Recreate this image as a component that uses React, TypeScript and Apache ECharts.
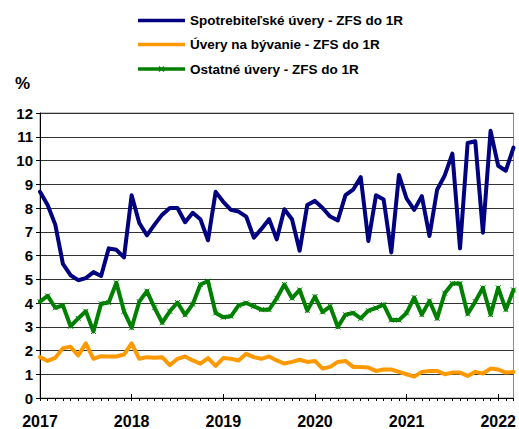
import React, { useEffect, useRef } from "react";
import * as echarts from "echarts";

const YEARS = ["2017", "2018", "2019", "2020", "2021", "2022"];
const MONTHS = ["01", "02", "03", "04", "05", "06", "07", "08", "09", "10", "11", "12"];
const LAST_MONTH_COUNT_2022 = 3;

const SERIES_NAMES = [
  "Spotrebiteľské úvery - ZFS do 1R",
  "Úvery na bývanie - ZFS do 1R",
  "Ostatné úvery - ZFS do 1R",
];
const SERIES_COLORS = ["#000080", "#FF9900", "#008000"];

const consumer = [
  8.68, 8.13, 7.3, 5.65, 5.17, 4.96, 5.05, 5.3, 5.14, 6.3, 6.24, 5.92,
  8.54, 7.37, 6.85, 7.3, 7.72, 8.0, 8.0, 7.4, 7.8, 7.53, 6.64, 8.68,
  8.26, 7.92, 7.85, 7.64, 6.75, 7.12, 7.53, 6.68, 7.95, 7.53, 6.2, 8.13,
  8.3, 8.0, 7.64, 7.48, 8.54, 8.77, 9.3, 6.61, 8.54, 8.36, 6.13, 9.39,
  8.4, 7.92, 8.5, 6.82, 8.77, 9.37, 10.29, 6.3, 10.74, 10.81, 6.96, 11.25,
  9.78, 9.57, 10.54,
];

const housing = [
  1.72, 1.56, 1.69, 2.1, 2.16, 1.79, 2.3, 1.65, 1.76, 1.75, 1.75, 1.83,
  2.3, 1.65, 1.72, 1.69, 1.72, 1.38, 1.65, 1.75, 1.58, 1.45, 1.68, 1.35,
  1.68, 1.65, 1.58, 1.86, 1.72, 1.65, 1.75, 1.58, 1.45, 1.52, 1.61, 1.52,
  1.56, 1.24, 1.31, 1.52, 1.56, 1.31, 1.31, 1.28, 1.14, 1.2, 1.2, 1.1,
  1.0, 0.9, 1.1, 1.14, 1.14, 1.0, 1.07, 1.07, 0.93, 1.1, 1.03, 1.24,
  1.2, 1.07, 1.1,
];

const other = [
  4.06, 4.3, 3.8, 3.9, 3.02, 3.35, 3.65, 2.8, 3.97, 4.02, 4.85, 3.65,
  2.96, 4.06, 4.5, 3.8, 3.17, 3.65, 4.02, 3.5, 3.95, 4.78, 4.92, 3.58,
  3.4, 3.44, 3.9, 4.0, 3.86, 3.72, 3.72, 4.2, 4.78, 4.2, 4.55, 3.68,
  4.27, 3.62, 3.86, 2.99, 3.51, 3.58, 3.35, 3.68, 3.79, 3.93, 3.28, 3.28,
  3.58, 4.23, 3.51, 4.09, 3.35, 4.41, 4.82, 4.82, 3.54, 4.06, 4.64, 3.51,
  4.64, 3.72, 4.55,
];

const categories: string[] = [];
YEARS.forEach((y, yi) => {
  const months = yi === YEARS.length - 1 ? MONTHS.slice(0, LAST_MONTH_COUNT_2022) : MONTHS;
  months.forEach((m) => categories.push(`${y}-${m}`));
});

const FONT = "'Liberation Sans', Arial, sans-serif";
const isJan = (_i: number, v: string) => v.endsWith("-01");
const CROSS = "path://M0,0L10,10M10,0L0,10";

function legendGraphic() {
  const x0 = 138;
  const x1 = 185;
  const ys = [20.5, 44.5, 69];
  const els: any[] = [];
  SERIES_NAMES.forEach((name, i) => {
    els.push({
      type: "line",
      shape: { x1: x0, y1: ys[i], x2: x1, y2: ys[i] },
      style: { stroke: SERIES_COLORS[i], lineWidth: 3.5 },
    });
    if (i === 2) {
      const cx = (x0 + x1) / 2;
      els.push({
        type: "polyline",
        shape: { points: [[cx - 2.5, ys[i] - 2.5], [cx + 2.5, ys[i] + 2.5]] },
        style: { stroke: SERIES_COLORS[i], lineWidth: 1.2, fill: null },
      });
      els.push({
        type: "polyline",
        shape: { points: [[cx + 2.5, ys[i] - 2.5], [cx - 2.5, ys[i] + 2.5]] },
        style: { stroke: SERIES_COLORS[i], lineWidth: 1.2, fill: null },
      });
    }
    els.push({
      type: "text",
      x: 190,
      y: ys[i],
      style: {
        text: name,
        fontFamily: FONT,
        fontSize: 13.5,
        fontWeight: "bold",
        fill: "#000",
        verticalAlign: "middle",
        align: "left",
      },
    });
  });
  return els;
}

export default function App() {
  const ref = useRef<HTMLDivElement>(null);
  useEffect(() => {
    if (!ref.current) return;
    const chart = echarts.init(ref.current, null, { renderer: "svg" });
    const xCommon = {
      type: "category" as const,
      data: categories,
      boundaryGap: false,
      gridIndex: 0,
    };
    chart.setOption({
      animation: false,
      backgroundColor: "#fff",
      textStyle: { fontFamily: FONT },
      graphic: [
        ...legendGraphic(),
        {
          type: "text",
          left: 15,
          top: 75,
          style: { text: "%", fontFamily: FONT, fontSize: 17, fontWeight: "bold", fill: "#000" },
        },
      ],
      grid: {
        left: 40,
        top: 113,
        right: 4,
        bottom: 25,
        show: true,
        borderColor: "#888",
        borderWidth: 1,
        backgroundColor: "transparent",
      },
      xAxis: [
        {
          ...xCommon,
          axisLine: { show: true, lineStyle: { color: "#000", width: 1 } },
          axisTick: { show: true, interval: 0, length: 3, lineStyle: { color: "#000" } },
          axisLabel: {
            interval: isJan,
            formatter: (v: string) => v.slice(0, 4),
            fontFamily: FONT,
            fontSize: 16,
            fontWeight: "bold",
            color: "#000",
            margin: 15,
          },
          splitLine: { show: false },
        },
        {
          ...xCommon,
          position: "bottom",
          axisLine: { show: false },
          axisTick: { show: true, inside: true, interval: isJan, length: 4, lineStyle: { color: "#000" } },
          axisLabel: { show: false },
          splitLine: { show: false },
        },
      ],
      yAxis: {
        type: "value",
        min: 0,
        max: 12,
        interval: 1,
        axisLine: { show: true, lineStyle: { color: "#000", width: 1 } },
        axisTick: { show: true, length: 4, lineStyle: { color: "#000" } },
        axisLabel: {
          fontFamily: FONT,
          fontSize: 15,
          fontWeight: "bold",
          color: "#000",
          margin: 7,
        },
        splitLine: { show: true, lineStyle: { color: "#333", width: 1 } },
      },
      series: [
        {
          name: SERIES_NAMES[0],
          type: "line",
          data: consumer,
          showSymbol: false,
          symbol: "none",
          itemStyle: { color: SERIES_COLORS[0] },
          lineStyle: { color: SERIES_COLORS[0], width: 4, cap: "round", join: "round" },
          z: 3,
        },
        {
          name: SERIES_NAMES[1],
          type: "line",
          data: housing,
          showSymbol: false,
          symbol: "none",
          itemStyle: { color: SERIES_COLORS[1] },
          lineStyle: { color: SERIES_COLORS[1], width: 4, cap: "round", join: "round" },
          z: 2,
        },
        {
          name: SERIES_NAMES[2],
          type: "line",
          data: other,
          symbol: CROSS,
          symbolSize: 5,
          showSymbol: true,
          showAllSymbol: true,
          itemStyle: { color: SERIES_COLORS[2], borderColor: SERIES_COLORS[2], borderWidth: 1 },
          lineStyle: { color: SERIES_COLORS[2], width: 4, cap: "round", join: "round" },
          z: 4,
        },
      ],
    });
    return () => chart.dispose();
  }, []);
  return <div ref={ref} style={{ width: 519, height: 429, position: "absolute", left: 0, top: 0 }} />;
}
